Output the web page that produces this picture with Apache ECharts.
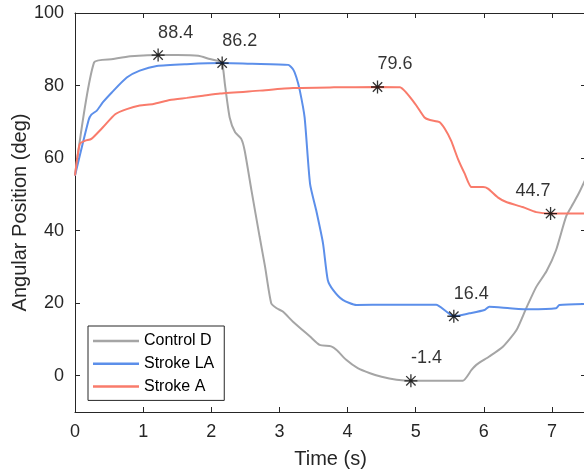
<!DOCTYPE html>
<html>
<head>
<meta charset="utf-8">
<script src="https://cdn.jsdelivr.net/npm/echarts@6/dist/echarts.min.js"></script>
<style>
  html, body { margin: 0; padding: 0; background: #fff; }
  #chart { width: 584px; height: 472px; }
</style>
</head>
<body>
<div id="chart"></div>
<script>
// Angular position traces (time in s, angle in deg)
const controlTime  = [0, 0.28, 0.56, 0.81, 1.0, 1.22, 1.5, 1.81, 1.98, 2.1, 2.16, 2.2, 2.27, 2.35, 2.44, 2.49, 2.59, 2.71, 2.79, 2.88, 2.96, 3.05, 3.2, 3.45, 3.59, 3.76, 3.84, 3.98, 4.15, 4.33, 4.5, 4.72, 4.93, 5.3, 5.69, 5.82, 5.89, 6.08, 6.28, 6.48, 6.62, 6.77, 6.92, 7.06, 7.21, 7.31, 7.4, 7.5];
const controlAngle = [55.2, 86.4, 87.3, 88.1, 88.3, 88.4, 88.4, 88.2, 87.3, 86.8, 86.2, 80.4, 71.2, 67.1, 65.3, 62.1, 51.1, 38.3, 30, 20, 18.6, 17.7, 14.9, 10.8, 8.5, 8.1, 7.1, 4.4, 2.1, 0.7, -0.3, -1.1, -1.4, -1.4, -1.4, 1.6, 3, 5.3, 8, 12.6, 18.5, 24.5, 28.8, 34.6, 44, 47.4, 50.5, 54.5];

const strokeLATime  = [0, 0.2, 0.24, 0.32, 0.41, 0.54, 0.76, 0.95, 1.2, 1.64, 2.16, 2.6, 3.13, 3.2, 3.25, 3.3, 3.37, 3.45, 3.54, 3.64, 3.71, 3.79, 3.93, 4.13, 4.6, 5.3, 5.45, 5.56, 5.79, 6.01, 6.08, 6.38, 6.67, 7.06, 7.11, 7.5];
const strokeLAAngle = [55.2, 70.5, 72, 73.1, 75.4, 78.1, 82.2, 84.1, 85.4, 85.9, 86.2, 86.0, 85.7, 84.5, 82.2, 78.6, 71.2, 52.9, 45.6, 36.5, 26.4, 23.6, 20.9, 19.5, 19.6, 19.6, 17.7, 16.4, 17.2, 18.1, 19, 18.6, 18.3, 18.6, 19.5, 19.8];

const strokeATime  = [0, 0.07, 0.15, 0.24, 0.41, 0.59, 0.76, 0.95, 1.15, 1.39, 1.64, 1.88, 2.13, 2.71, 3.2, 3.8, 4.44, 4.77, 4.86, 4.96, 5.01, 5.13, 5.21, 5.35, 5.43, 5.52, 5.62, 5.72, 5.82, 5.99, 6.06, 6.21, 6.33, 6.57, 6.77, 6.98, 7.5];
const strokeAAngle = [55.2, 63.9, 64.8, 65.3, 68.5, 72.1, 73.5, 74.5, 74.9, 76, 76.6, 77.2, 77.8, 78.6, 79.3, 79.5, 79.6, 79.5, 78.1, 75.8, 74.5, 71.2, 70.5, 69.9, 68, 64.8, 59.8, 55.7, 52, 52, 51.6, 49.1, 47.9, 46.5, 45.1, 44.7, 44.7];

// Annotated extrema
const extremaTime  = [1.22, 2.16, 4.44, 6.98, 5.56, 4.93];
const extremaAngle = [88.4, 86.2, 79.6, 44.7, 16.4, -1.4];

const seriesNames = ['Control D', 'Stroke LA', 'Stroke A'];
const xTicks = [0, 1, 2, 3, 4, 5, 6, 7];
const yTicks = [0, 20, 40, 60, 80, 100];

const FONT = '"Liberation Sans", Arial, Helvetica, sans-serif';
const AXIS = '#262626';
const colors = ['#a5a5a5', '#5c8fea', '#f97b6b'];
const X_MAX = 7.5;

const zip = (xs, ys) => xs.map((x, i) => [x, ys[i]]);

// asterisk marker: horizontal, vertical and two diagonal bars
const ASTERISK = 'path://M0 10.8 H24 V13.2 H0 Z M10.8 0 H13.2 V24 H10.8 Z ' +
  'M2.5 4.2 L4.2 2.5 L21.5 19.8 L19.8 21.5 Z M19.8 2.5 L21.5 4.2 L4.2 21.5 L2.5 19.8 Z';

const chart = echarts.init(document.getElementById('chart'));

const baseX = {
  type: 'value', min: 0, max: X_MAX,
  axisLine: { show: true, onZero: false, lineStyle: { color: AXIS, width: 1 } },
  axisTick: { show: true, inside: true, length: 5, customValues: xTicks, lineStyle: { color: AXIS } },
  splitLine: { show: false }
};
const baseY = {
  type: 'value', min: -10, max: 100,
  axisLine: { show: true, onZero: false, lineStyle: { color: AXIS, width: 1 } },
  axisTick: { show: true, inside: true, length: 5, customValues: yTicks, lineStyle: { color: AXIS } },
  splitLine: { show: false }
};

const traceSeries = (i, xs, ys) => ({
  name: seriesNames[i], type: 'line', data: zip(xs, ys),
  showSymbol: false, symbol: 'none', smooth: 0.2,
  lineStyle: { color: colors[i], width: 2 }, itemStyle: { color: colors[i] }
});

// value labels sit to the right of their marker, except near the right edge
const extremaData = zip(extremaTime, extremaAngle).map(p => ({
  value: p,
  label: { align: p[0] > X_MAX - 1 ? 'right' : 'left' }
}));

chart.setOption({
  animation: false,
  backgroundColor: '#fff',
  textStyle: { fontFamily: FONT },
  grid: { left: 75, right: -2, top: 13, bottom: 60, containLabel: false, outerBoundsMode: 'none' },
  xAxis: [
    Object.assign({}, baseX, {
      position: 'bottom',
      name: 'Time (s)', nameLocation: 'middle', nameGap: 37,
      nameTextStyle: { fontSize: 20, color: AXIS, fontFamily: FONT },
      axisLabel: { show: true, customValues: xTicks, margin: 11, fontSize: 18, color: AXIS, fontFamily: FONT }
    }),
    Object.assign({}, baseX, { position: 'top', axisLabel: { show: false } })
  ],
  yAxis: [
    Object.assign({}, baseY, {
      position: 'left',
      name: 'Angular Position (deg)', nameLocation: 'middle', nameGap: 45,
      nameMoveOverlap: false,
      nameTextStyle: { fontSize: 20, color: AXIS, fontFamily: FONT },
      axisLabel: { show: true, customValues: yTicks, margin: 11, fontSize: 18, color: AXIS, fontFamily: FONT }
    }),
    Object.assign({}, baseY, { position: 'right', axisLabel: { show: false } })
  ],
  legend: {
    orient: 'vertical', left: 88, top: 326,
    data: seriesNames,
    icon: 'rect',
    itemWidth: 46, itemHeight: 2.5, itemGap: 6.7,
    padding: [7, 10, 6, 5],
    borderColor: AXIS, borderWidth: 1, backgroundColor: '#fff',
    textStyle: { fontSize: 16, color: '#000', fontFamily: FONT }
  },
  series: [
    traceSeries(0, controlTime, controlAngle),
    traceSeries(1, strokeLATime, strokeLAAngle),
    traceSeries(2, strokeATime, strokeAAngle),
    { name: 'extrema', type: 'scatter', data: extremaData,
      symbol: ASTERISK, symbolSize: 13, z: 5,
      itemStyle: { color: '#000' },
      label: {
        show: true, position: 'top', distance: 5, offset: [0, -2],
        formatter: p => p.value[1].toFixed(1),
        fontSize: 18, color: '#000', fontFamily: FONT
      }
    }
  ]
});
</script>
</body>
</html>
